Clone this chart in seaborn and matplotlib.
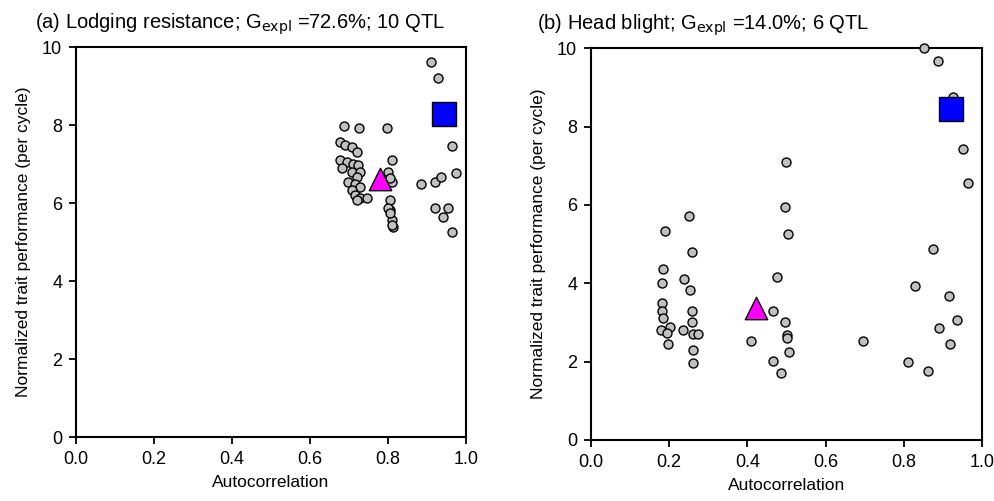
import matplotlib
matplotlib.use("Agg")
import matplotlib.pyplot as plt
import seaborn as sns
import pandas as pd

sns.set_theme(style="white")
plt.rcParams["font.family"] = ["Liberation Sans", "DejaVu Sans"]
plt.rcParams["text.color"] = "black"
plt.rcParams["axes.labelcolor"] = "black"
plt.rcParams["xtick.color"] = "black"
plt.rcParams["ytick.color"] = "black"

# (a) Lodging resistance: per-population autocorrelation vs normalized performance
lodging_x = [0.910, 0.928, 0.687, 0.726, 0.797, 0.964, 0.810, 0.974, 0.885, 0.920,
             0.936, 0.920, 0.954, 0.941, 0.964, 0.805, 0.805, 0.810, 0.813, 0.797,
             0.810, 0.677, 0.690, 0.708, 0.720, 0.677, 0.694, 0.710, 0.723, 0.682,
             0.708, 0.728, 0.720, 0.697, 0.715, 0.728, 0.708, 0.715, 0.728, 0.746,
             0.720, 0.800, 0.805, 0.800, 0.805, 0.810]
lodging_y = [9.62, 9.20, 7.97, 7.93, 7.93, 7.46, 7.10, 6.77, 6.50, 6.55,
             6.66, 5.87, 5.87, 5.65, 5.25, 6.08, 5.82, 5.56, 5.39, 6.60,
             6.55, 7.56, 7.48, 7.44, 7.31, 7.10, 7.05, 7.00, 6.97, 6.90,
             6.80, 6.80, 6.67, 6.54, 6.50, 6.41, 6.33, 6.20, 6.13, 6.13,
             6.08, 6.80, 6.64, 5.87, 5.74, 5.44]
lodging_mean = (0.779, 6.62)
lodging_best = (0.944, 8.28)

# (b) Head blight
blight_x = [0.189, 0.251, 0.258, 0.184, 0.182, 0.238, 0.253, 0.182, 0.182, 0.258,
            0.258, 0.184, 0.202, 0.179, 0.194, 0.235, 0.261, 0.274, 0.197, 0.261,
            0.261, 0.409, 0.465, 0.476, 0.499, 0.496, 0.504, 0.496, 0.501, 0.501,
            0.506, 0.465, 0.486, 0.852, 0.887, 0.926, 0.951, 0.964, 0.875, 0.829,
            0.916, 0.936, 0.890, 0.918, 0.811, 0.862, 0.696]
blight_y = [5.33, 5.71, 4.80, 4.36, 4.00, 4.10, 3.83, 3.49, 3.30, 3.30,
            3.00, 3.11, 2.88, 2.80, 2.73, 2.80, 2.70, 2.70, 2.45, 2.30,
            1.96, 2.52, 3.29, 4.16, 7.09, 5.94, 5.26, 3.01, 2.68, 2.60,
            2.24, 2.02, 1.71, 10.00, 9.67, 8.75, 7.42, 6.55, 4.87, 3.93,
            3.67, 3.06, 2.86, 2.45, 1.99, 1.76, 2.53]
blight_mean = (0.422, 3.37)
blight_best = (0.921, 8.44)

panels = [
    dict(title=r"(a) Lodging resistance; G$_{\rm expl}$ =72.6%; 10 QTL",
         x=lodging_x, y=lodging_y, mean=lodging_mean, best=lodging_best,
         rect=[0.0764, 0.1277, 0.392, 0.778], title_x=-0.105),
    dict(title=r"(b) Head blight; G$_{\rm expl}$ =14.0%; 6 QTL",
         x=blight_x, y=blight_y, mean=blight_mean, best=blight_best,
         rect=[0.594, 0.1218, 0.393, 0.782], title_x=-0.138),
]

fig = plt.figure(figsize=(9.95, 5.01), dpi=100)

for p in panels:
    ax = fig.add_axes(p["rect"])
    df = pd.DataFrame({"x": p["x"], "y": p["y"]})
    sns.scatterplot(data=df, x="x", y="y", ax=ax, color="#c0c0c0", edgecolor="black",
                    linewidth=1.0, s=42, marker="o", clip_on=False, zorder=3)
    sns.scatterplot(x=[p["mean"][0]], y=[p["mean"][1]], ax=ax, marker="^", s=260,
                    color="#ff00ff", edgecolor="black", linewidth=1.0, zorder=4,
                    clip_on=False)
    sns.scatterplot(x=[p["best"][0]], y=[p["best"][1]], ax=ax, marker="s", s=300,
                    color="#0000ff", edgecolor="black", linewidth=1.0, zorder=4,
                    clip_on=False)
    ax.set_xlim(0, 1)
    ax.set_ylim(0, 10)
    ax.set_xticks([0, 0.2, 0.4, 0.6, 0.8, 1.0])
    ax.set_xticklabels(["0.0", "0.2", "0.4", "0.6", "0.8", "1.0"])
    ax.set_yticks([0, 2, 4, 6, 8, 10])
    for s in ax.spines.values():
        s.set_color("black")
        s.set_linewidth(1.5)
    ax.tick_params(axis="both", direction="out", length=5, width=1.3, color="black",
                   labelsize=13, bottom=True, left=True, pad=5)
    ax.set_xlabel("Autocorrelation", fontsize=12.5, labelpad=5)
    ax.set_ylabel("Normalized trait performance (per cycle)", fontsize=12.5, labelpad=8)
    ax.set_title(p["title"], fontsize=14.5, loc="left", x=p["title_x"], pad=13)

fig.savefig("out.png", dpi=100)
